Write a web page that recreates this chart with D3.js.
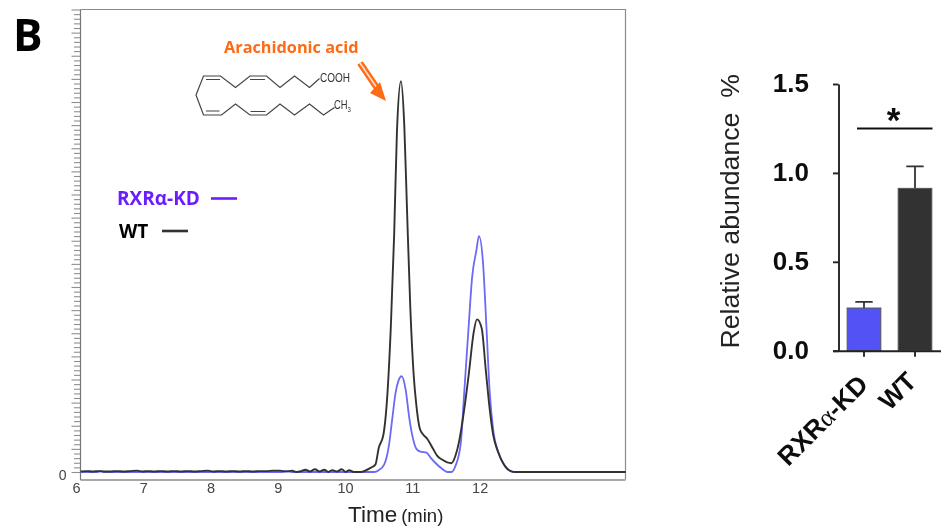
<!DOCTYPE html>
<html><head><meta charset="utf-8">
<script src="https://cdn.jsdelivr.net/npm/d3@7"></script>
<style>html,body{margin:0;padding:0;background:#fff}svg{display:block}</style>
</head><body><svg id="c" width="943" height="531"></svg>
<script>
// --- Chromatogram data (time in min, intensity in % of full scale)
const wtTime = [6.06,6.15,6.24,6.32,6.4,6.5,6.6,6.7,6.8,6.9,6.98,7.06,7.15,7.25,7.35,7.45,7.55,7.65,7.75,7.85,7.95,8.03,8.12,8.22,8.32,8.42,8.52,8.62,8.72,8.82,8.92,9.02,9.12,9.2,9.27,9.34,9.4,9.47,9.54,9.61,9.68,9.74,9.8,9.87,9.94,10,10.05,10.12,10.22,10.37,10.44,10.49,10.56,10.62,10.67,10.72,10.76,10.82,10.87,10.91,10.96,11.01,11.05,11.1,11.15,11.21,11.29,11.36,11.43,11.57,11.63,11.68,11.76,11.83,11.9,11.95,12.02,12.08,12.14,12.19,12.26,12.35,12.45,12.52,14.16];
const wtValue = [0.1,0.2,0.1,0.2,0.1,0.1,0.2,0.1,0.2,0.3,0.1,0.2,0.1,0.2,0.1,0.2,0.1,0.2,0.1,0.2,0.3,0.1,0.2,0.1,0.2,0.1,0.2,0.1,0.2,0.2,0.3,0.3,0.1,0.3,0,0.2,0.5,0.1,0.6,0.1,0.5,0,0.4,0.1,0.6,0,0.4,0,0,0.9,1.6,5.2,8.1,17.1,31.5,51.7,73.4,84.5,74.8,56.8,35.2,20.8,14.3,9.4,8.1,7.2,5.2,3.5,2.7,1.9,3.5,6.3,13.5,21.4,30.1,33,31.1,22.2,13.5,8.1,4.5,1.6,0.2,0,0];
const kdTime = [6.06,6.3,6.36,6.42,7,8,9.05,9.12,9.2,10.42,10.49,10.57,10.64,10.69,10.74,10.78,10.83,10.89,10.94,10.99,11.05,11.11,11.2,11.26,11.33,11.43,11.51,11.57,11.63,11.71,11.76,11.82,11.88,11.94,11.98,12.04,12.09,12.14,12.19,12.28,12.37,12.47,12.55,14.16];
const kdValue = [0,0,0.2,0,0,0,0,0.2,0,0,0.4,1.6,5.6,11.4,17.1,19.6,20.7,17.8,12.1,7.8,5,4.4,4.2,3.1,2,0.7,0,0,1.3,6.3,17.1,30.1,42.4,47.8,51,45.2,31.5,17.1,9.2,3.8,1.2,0.1,0,0];
const timeTicks = [6,7,8,9,10,11,12];
// --- Bar chart data
const barNames = ["RXRα-KD","WT"];
const barMeans = [0.24,0.913];
const barErrors = [0.035,0.124];
const abundanceTicks = [0,0.5,1,1.5];

const svg = d3.select("#c");
const SANS = "'Liberation Sans',Arial,sans-serif", OPEN = "'Open Sans',sans-serif";
svg.append("defs").append("filter").attr("id","soft").attr("x","-5%").attr("y","-5%").attr("width","110%").attr("height","110%")
  .append("feGaussianBlur").attr("stdDeviation",0.4);

// ===== Left panel
const x = d3.scaleLinear().domain([6.05,14.15]).range([80,625]);
const y = d3.scaleLinear().domain([0,100]).range([472,9.5]);
const L = svg.append("g").attr("filter","url(#soft)");
L.append("path").attr("d","M80.5,9.5H625.5V479.5").attr("fill","none").attr("stroke","#8a8a8a").attr("stroke-width",1.2);

const yMinor = L.append("g").attr("transform","translate(80.5,0)")
  .call(d3.axisLeft(y).tickValues(d3.range(0,101,1).filter(d=>d%5)).tickSize(6.5).tickFormat(""));
yMinor.select(".domain").remove();
yMinor.selectAll("line").attr("stroke","#8f8f8f").attr("stroke-width",1.1);
const yMajor = L.append("g").attr("transform","translate(80.5,0)")
  .call(d3.axisLeft(y).tickValues(d3.range(0,101,5)).tickSize(9).tickFormat(d=>d===0?"0":""));
yMajor.select(".domain").remove();
yMajor.selectAll("line").attr("stroke","#8f8f8f").attr("stroke-width",1.1);
yMajor.selectAll("text").attr("font-family",SANS).attr("font-size",14).attr("fill","#444").attr("dy","0.55em").attr("x",-14);
L.append("line").attr("x1",80.5).attr("x2",80.5).attr("y1",9.5).attr("y2",480).attr("stroke","#777").attr("stroke-width",1.2);

const xAxis = L.append("g").attr("transform","translate(0,479.5)")
  .call(d3.axisBottom(x).tickValues(timeTicks).tickSize(0).tickSizeOuter(0).tickPadding(3).tickFormat(d3.format("d")));
xAxis.select(".domain").attr("stroke","#8a8a8a").attr("stroke-width",1.4);
xAxis.selectAll("text").attr("font-family",SANS).attr("font-size",14.5).attr("fill","#444").attr("dx",-0.7);

const line = d3.line().x(d=>x(d[0])).y(d=>y(d[1])).curve(d3.curveMonotoneX);
L.append("path").datum(d3.zip(kdTime,kdValue)).attr("d",line).attr("fill","none").attr("stroke","#6a6af5").attr("stroke-width",1.8);
L.append("path").datum(d3.zip(wtTime,wtValue)).attr("d",line).attr("fill","none").attr("stroke","#333").attr("stroke-width",1.9);

const tt = L.append("text").attr("x",348).attr("y",522).attr("font-family",SANS).attr("fill","#222");
tt.append("tspan").attr("font-size",22.5).text("Time");
tt.append("tspan").attr("font-size",18.5).attr("dx",4).text("(min)");

L.append("text").attr("x",13).attr("y",51).attr("font-family",OPEN).attr("font-weight",700).attr("font-size",44).attr("fill","#000").text("B");
L.append("text").attr("x",224).attr("y",53).attr("font-family",OPEN).attr("font-weight",700).attr("font-size",16.3).attr("fill","#ff6a13").text("Arachidonic acid");
L.append("text").attr("x",117).attr("y",204.5).attr("font-family",OPEN).attr("font-weight",700).attr("font-size",19).attr("fill","#6a1fff").text(barNames[0]);
L.append("line").attr("x1",211).attr("x2",237).attr("y1",198.5).attr("y2",198.5).attr("stroke","#6a1fff").attr("stroke-width",2.6);
L.append("text").attr("x",119).attr("y",237.5).attr("font-family",OPEN).attr("font-weight",700).attr("font-size",19).attr("fill","#000").text(barNames[1]);
L.append("line").attr("x1",162).attr("x2",188).attr("y1",231).attr("y2",231).attr("stroke","#333").attr("stroke-width",2.6);

// Orange annotation arrow
L.append("line").attr("x1",360).attr("y1",63).attr("x2",377).attr("y2",88).attr("stroke","#ff6a13").attr("stroke-width",6.5);
L.append("line").attr("x1",360).attr("y1",63).attr("x2",377).attr("y2",88).attr("stroke","#ffd9c0").attr("stroke-width",1.8);
L.append("path").attr("d","M386,101L370,93L380,82Z").attr("fill","#ff6a13");

// Arachidonic acid structure (decorative drawing)
const chem = L.append("g").attr("fill","none").attr("stroke","#444").attr("stroke-width",1.2);
chem.append("path").attr("d","M319.5,78.5L309.5,87.5L294.5,76L280,87.5L266.5,76H250L235.5,87.5L220.5,76H203.5L196,95L203.5,115H221.5L235.5,104L250,115H266.5L280,104L294.5,115L309.5,104L323.5,115L334.5,107.5");
chem.append("path").attr("d","M206,79.5H220M250,79.5H265M206,111H219.5M250.5,111.5H265.5");
const chemText = L.append("g").attr("font-family","'Liberation Sans',sans-serif").attr("fill","#333").attr("font-size",12.5);
chemText.append("text").attr("x",320).attr("y",81.5).attr("textLength",30).attr("lengthAdjust","spacingAndGlyphs").text("COOH");
const ch3 = chemText.append("text").attr("transform","translate(334,109) scale(0.75,1)").text("CH");
ch3.append("tspan").attr("font-size",8).attr("dy",3).text("3");

// ===== Right panel
const by = d3.scaleLinear().domain([0,1.5]).range([350.7,84]);
const bx = d3.scaleBand().domain(barNames).range([838.5,940.5]).paddingInner(0.34).paddingOuter(0.17);
const bx0 = d3.scaleOrdinal().domain(barNames).range(["#5252f5","#333333"]);
const R = svg.append("g").attr("filter","url(#soft)");

R.selectAll(".err").data(barNames).join("path")
  .attr("d",(d,i)=>{const c=bx(d)+bx.bandwidth()/2,t=by(barMeans[i]+barErrors[i]),b=by(barMeans[i]);return `M${c},${b}V${t}M${c-8.7},${t}H${c+8.7}`;})
  .attr("fill","none").attr("stroke","#333").attr("stroke-width",1.8);
R.selectAll(".bar").data(barNames).join("rect")
  .attr("x",d=>bx(d)).attr("width",bx.bandwidth())
  .attr("y",(d,i)=>by(barMeans[i])).attr("height",(d,i)=>by(0)-by(barMeans[i]))
  .attr("fill",d=>bx0(d)).attr("stroke","#555").attr("stroke-width",1);

const ay = R.append("g").attr("transform","translate(838.5,0)")
  .call(d3.axisLeft(by).tickValues(abundanceTicks).tickSize(5.5).tickSizeOuter(0).tickPadding(24).tickFormat(d3.format(".1f")));
ay.selectAll("path,line").attr("stroke","#222").attr("stroke-width",1.9);
ay.selectAll("text").attr("font-family",SANS).attr("font-weight",700).attr("font-size",26).attr("fill","#111").attr("dy","0.3em");

const ax = R.append("g").attr("transform","translate(0,350.7)")
  .call(d3.axisBottom(bx).tickSize(6).tickSizeOuter(0).tickFormat(""));
ax.select(".domain").attr("d","M833,0.5H941").attr("stroke","#222").attr("stroke-width",1.9);
ax.selectAll("line").attr("stroke","#222").attr("stroke-width",1.9);

const lab = R.selectAll(".xl").data(barNames).join("text")
  .attr("text-anchor","end").attr("font-family",SANS).attr("font-weight",700).attr("font-size",26).attr("fill","#111")
  .attr("transform",d=>`translate(${bx(d)+bx.bandwidth()/2+(d==="WT"?3:5.5)},${d==="WT"?383:386}) rotate(-45)`);
lab.each(function(d){
  const t=d3.select(this), i=d.indexOf("α");
  if(i<0){t.text(d);return;}
  t.append("tspan").text(d.slice(0,i));
  t.append("tspan").attr("font-family","'Liberation Serif',serif").attr("font-weight",400).text("α");
  t.append("tspan").text(d.slice(i+1));
});

R.append("text").attr("transform","translate(739,348.5) rotate(-90)").attr("font-family",SANS).attr("font-size",26.7).attr("fill","#222")
  .attr("xml:space","preserve").style("white-space","pre").text("Relative abundance  %");
R.append("line").attr("x1",857).attr("x2",932.5).attr("y1",128.5).attr("y2",128.5).attr("stroke","#111").attr("stroke-width",1.8);
R.append("text").attr("x",893.5).attr("y",132).attr("text-anchor","middle").attr("font-family",SANS).attr("font-weight",700).attr("font-size",35).attr("fill","#111").text("*");
</script></body></html>
